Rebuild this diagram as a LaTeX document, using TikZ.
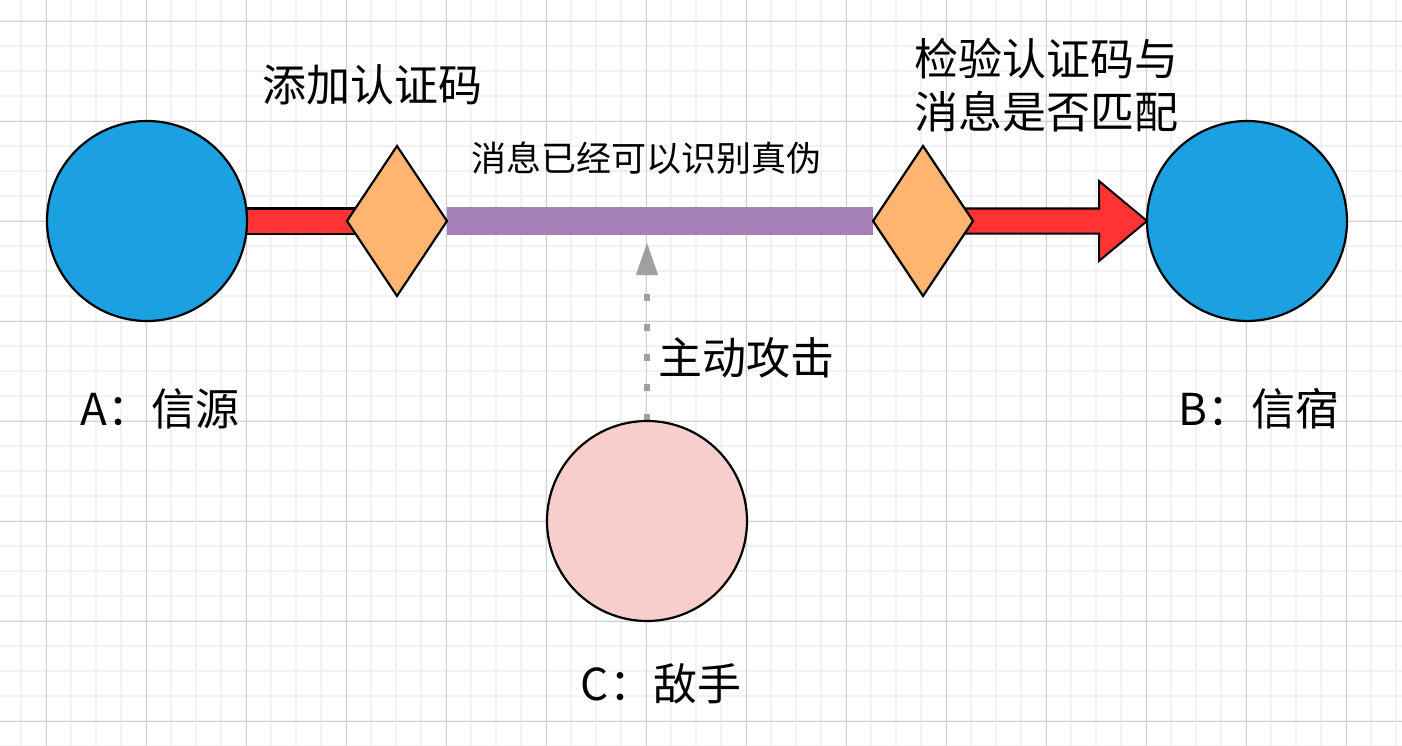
\documentclass[tikz,border=0pt]{standalone}
\usepackage{fontspec}
\newfontfamily\cjk{Noto Sans CJK SC}
\usetikzlibrary{shapes.geometric,arrows.meta,calc,backgrounds}
\definecolor{srcblue}{HTML}{1BA1E2}
\definecolor{barred}{HTML}{FF3333}
\definecolor{macorange}{HTML}{FFB570}
\definecolor{authpurple}{HTML}{A680B8}
\definecolor{advpink}{HTML}{F8CECC}
\definecolor{atkgray}{HTML}{A0A0A0}
\definecolor{gridminor}{HTML}{F2F2F2}
\definecolor{gridmajor}{HTML}{D0D0D0}

\begin{document}
\begin{tikzpicture}[x=1pt, y=-1pt, every node/.style={font=\cjk\fontsize{44pt}{53pt}\selectfont}]
  \tikzstyle{party}=[draw,circle,line width=2.2pt,minimum size=200pt,inner sep=0pt,outer sep=0pt]
  \tikzstyle{mac}=[draw,diamond,fill=macorange,line width=2.2pt,minimum width=100pt,minimum height=150pt,inner sep=0pt,outer sep=0pt]
  \tikzstyle{redbar}=[fill=barred,draw=black,line width=2pt]
  \tikzstyle{atkline}=[atkgray,line width=6.5pt,dash pattern=on 7pt off 23pt,-{Triangle[length=32pt,width=22pt,line width=0.5pt]}]
  \tikzstyle{minorline}=[gridminor,line width=2pt]
  \tikzstyle{majorline}=[gridmajor,line width=1pt]
  \useasboundingbox (0,0) rectangle (1402,746);
  \node[party,fill=srcblue] (srcA) at (147,221) {};
  \node[party,fill=srcblue] (dstB) at (1247,221) {};
  \node[party,fill=advpink] (advC) at (647,521) {};
  \node[mac] (macAdd) at (397,221) {};
  \node[mac] (macChk) at (923,221) {};
  \coordinate (hit) at (647,243);
  \node (lblAdd) at (372,85) {添加认证码};
  \node[align=center] (lblChk) at (1046,85) {检验认证码与\\消息是否匹配};
  \node[font=\cjk\fontsize{35pt}{42pt}\selectfont] (lblAuth) at (646,158) {消息已经可以识别真伪};
  \node (lblAtk) at (746,358) {主动攻击};
  \node (lblA) at (160,409) {A：信源};
  \node (lblB) at (1259,409) {B：信宿};
  \node (lblC) at (661,684) {C：敌手};
  \begin{pgfonlayer}{background}
    \fill[white] (0,0) rectangle (1402,746);
    \foreach \gx in {0,...,55} \draw[minorline] ({21.3+25*\gx},0) -- ({21.3+25*\gx},746);
    \foreach \gy in {0,...,29} \draw[minorline] (0,{21.3+25*\gy}) -- (1402,{21.3+25*\gy});
    \foreach \gx in {0,...,13} \draw[majorline] ({46.3+100*\gx},0) -- ({46.3+100*\gx},746);
    \foreach \gy in {0,...,7} \draw[majorline] (0,{21.3+100*\gy}) -- (1402,{21.3+100*\gy});
    \filldraw[redbar] ($(srcA.center)+(0,-12.5)$) rectangle ($(macAdd.center)+(0,12.5)$);
    \draw[authpurple,line width=27pt] (macAdd) -- (macChk);
    \filldraw[redbar] ($(macChk.center)+(0,-12.5)$) -- ($(dstB.west)+(-48,-12.5)$) -- ($(dstB.west)+(-48,-40)$) -- (dstB.west) -- ($(dstB.west)+(-48,40)$) -- ($(dstB.west)+(-48,12.5)$) -- ($(macChk.center)+(0,12.5)$) -- cycle;
    \draw[atkline] (advC.north) -- (hit);
  \end{pgfonlayer}
\end{tikzpicture}
\end{document}
